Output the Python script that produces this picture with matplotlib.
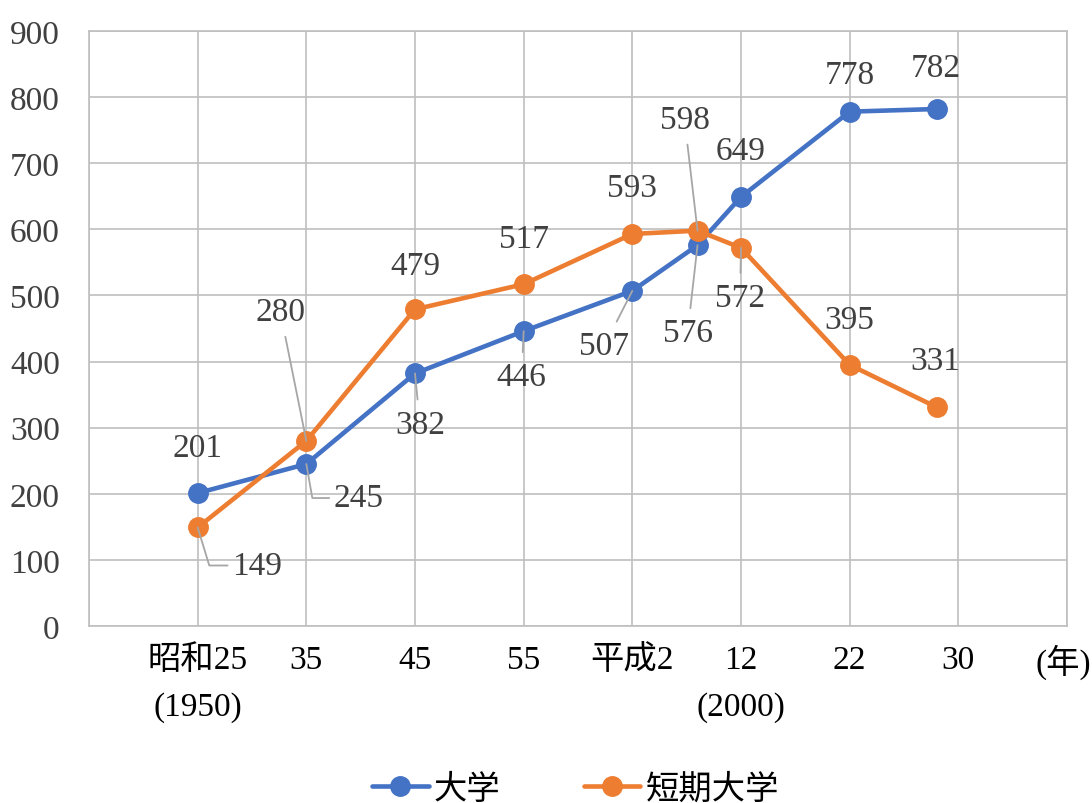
import matplotlib; matplotlib.use("Agg")
import matplotlib.pyplot as plt

FONT = ["Liberation Serif", "Noto Sans CJK JP"]
BLUE = "#4472C4"; ORANGE = "#ED7D31"; GRID = "#BFBFBF"; TXT = "#404040"
plt.rcParams.update({"font.family": FONT, "font.size": 24})

# data
years = [1950, 1960, 1970, 1980, 1990, 1996, 2000, 2010, 2018]
univ = [201, 245, 382, 446, 507, 576, 649, 778, 782]
junior = [149, 280, 479, 517, 593, 598, 572, 395, 331]
tick_years = [1950, 1960, 1970, 1980, 1990, 2000, 2010, 2020]
tick_labels = ["昭和25\n(1950)", "35", "45", "55", "平成2", "12\n(2000)", "22", "30"]
series_names = ["大学", "短期大学"]

# label offsets in pixels (x right, y up) and leader kind
univ_off = [(0, 45), (52, -34), (5, -51), (-2, -46), (-28, -55), (-10, -88), (0, 46), (0, 37), (-1, 41)]
univ_lead = [None, -80, "line", "line", "line", "line", None, None, None]
jun_off = [(59, -38), (-26, 129), (0, 44), (0, 45), (0, 46), (-13, 111), (-1, -50), (0, 45), (-1, 46)]
jun_lead = [-73, "line", None, None, None, "line", "line", None, None]

fig = plt.figure(figsize=(10.92, 8.04), dpi=100)
ax = fig.add_axes([89/1092, 1-627/804, (1067-89)/1092, (627-32)/804])
ax.set_xlim(1940, 2030); ax.set_ylim(0, 900)
ax.set_yticks(range(0, 901, 100))
ax.grid(True, color=GRID, lw=1.2)
for s in ax.spines.values():
    s.set_color(GRID); s.set_linewidth(1.2)
ax.set_xticks(tick_years); ax.set_xticklabels(tick_labels, linespacing=1.7, color="black", va="top")
ax.set_xticks(range(1940, 2031, 10), minor=True)
ax.grid(True, which="minor", axis="x", color=GRID, lw=1.2)
ax.tick_params(axis="x", which="both", pad=13, length=0)
ax.tick_params(axis="y", pad=21, length=0, labelcolor=TXT)
ax.set_axisbelow(True)
ax.text(0.996, -0.030, "(年)", transform=ax.transAxes, ha="center", va="top", color="black")

for vals, col, name, offs, leads in [(univ, BLUE, series_names[0], univ_off, univ_lead),
                                     (junior, ORANGE, series_names[1], jun_off, jun_lead)]:
    ax.plot(years, vals, color=col, lw=3.3, marker="o", ms=14, label=name, solid_capstyle="round", zorder=3)
    for x, v, (dx, dy), ld in zip(years, vals, offs, leads):
        ap = None
        if ld == "line":
            ap = dict(arrowstyle="-", color="#A6A6A6", lw=1.3, shrinkA=5, shrinkB=0)
        elif ld is not None:
            ap = dict(arrowstyle="-", color="#A6A6A6", lw=1.3, shrinkA=1, shrinkB=0,
                      connectionstyle=f"angle,angleA=0,angleB={ld},rad=0")
        ax.annotate(str(v), (x, v), xytext=(dx, dy), textcoords="offset pixels",
                    ha="center", va="center", color=TXT, arrowprops=ap, zorder=4)

fig.legend(loc="center", bbox_to_anchor=(0.527, 0.017), ncol=2, frameon=False,
           handlelength=1.7, handletextpad=0.15, columnspacing=2.5, fontsize=24)
fig.savefig("out.png", dpi=100)
